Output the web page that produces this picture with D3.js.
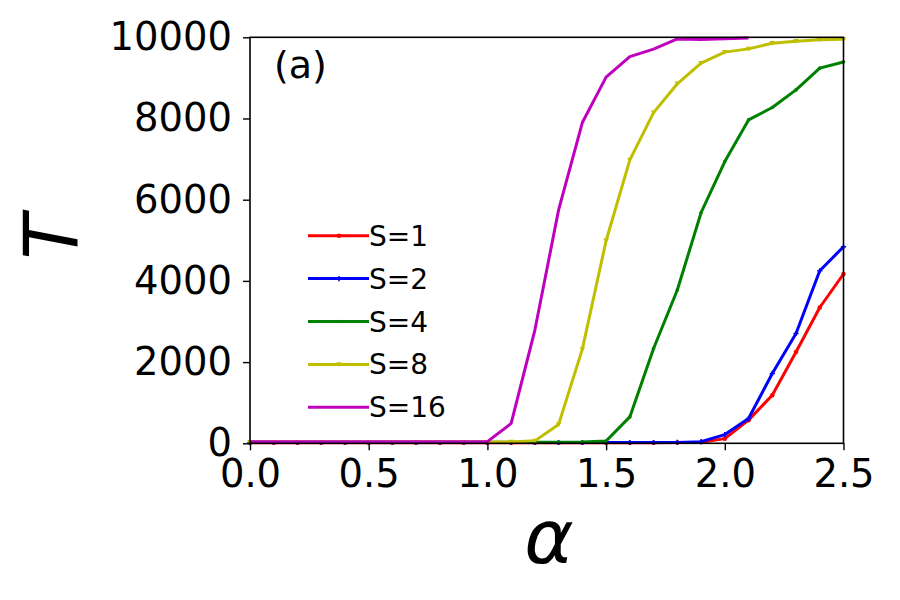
<!DOCTYPE html>
<html>
<head>
<meta charset="utf-8">
<script src="https://cdn.jsdelivr.net/npm/d3@7"></script>
<style>
  html, body { margin: 0; padding: 0; background: #fff; }
  svg text { font-family: "DejaVu Sans", sans-serif; fill: #000; }
</style>
</head>
<body>
<div id="chart"></div>
<script>
// ── Data ──────────────────────────────────────────────────────
const alphas = [0.0, 0.1, 0.2, 0.3, 0.4, 0.5, 0.6, 0.7, 0.8, 0.9, 1.0, 1.1, 1.2,
                1.3, 1.4, 1.5, 1.6, 1.7, 1.8, 1.9, 2.0, 2.1, 2.2, 2.3, 2.4, 2.5];

const s1  = [15, 15, 15, 15, 15, 15, 15, 15, 15, 15, 15, 15, 15,
             15, 15, 15, 15, 15, 18, 25, 115, 570, 1185, 2250, 3345, 4170];
const s2  = [20, 20, 20, 20, 20, 20, 20, 20, 20, 20, 20, 20, 20,
             20, 20, 20, 20, 20, 22, 40, 215, 610, 1720, 2705, 4250, 4840];
const s4  = [25, 25, 25, 25, 25, 25, 25, 25, 25, 25, 25, 25, 25,
             25, 30, 57, 650, 2335, 3775, 5680, 6940, 7965, 8270, 8705, 9240, 9390];
const s8  = [30, 30, 30, 30, 30, 30, 30, 30, 30, 30, 30, 35, 60,
             465, 2320, 4990, 6980, 8145, 8855, 9365, 9635, 9715, 9855, 9905, 9940, 9950];
const s16 = [40, 40, 40, 40, 40, 40, 40, 40, 40, 40, 40, 490, 2790,
             5750, 7900, 9020, 9525, 9710, 9960, 9945, 9965, 9985];

const seriesNames  = ['S=1', 'S=2', 'S=4', 'S=8', 'S=16'];
const seriesValues = [s1, s2, s4, s8, s16];
const seriesColors = ['#ff0000', '#0000ff', '#008000', '#bfbf00', '#bf00bf'];
const seriesMarks  = ['circle', 'plus', 'dot', 'tri', 'none'];

const xTicks = [0.0, 0.5, 1.0, 1.5, 2.0, 2.5];
const yTicks = [0, 2000, 4000, 6000, 8000, 10000];

// ── Layout ────────────────────────────────────────────────────
const width = 900, height = 600;
const plot = { left: 250, right: 843.5, top: 37.3, bottom: 443.3 };

const svg = d3.select('#chart').append('svg')
  .attr('width', width)
  .attr('height', height);

const x = d3.scaleLinear().domain([0, 2.5]).range([plot.left, plot.right]);
const y = d3.scaleLinear().domain([0, 10000]).range([plot.bottom, plot.top]);

// ── Lines ─────────────────────────────────────────────────────
const line = d3.line()
  .x(d => x(d.a))
  .y(d => y(d.v));

function drawMarker(g, type, cx, cy, color) {
  if (type === 'circle') {
    g.append('circle').attr('cx', cx).attr('cy', cy).attr('r', 2.3).attr('fill', color);
  } else if (type === 'dot') {
    g.append('circle').attr('cx', cx).attr('cy', cy).attr('r', 1.8).attr('fill', color);
  } else if (type === 'plus') {
    g.append('path')
      .attr('d', `M${cx - 2.6},${cy}H${cx + 2.6}M${cx},${cy - 2.6}V${cy + 2.6}`)
      .attr('stroke', color).attr('stroke-width', 1.6);
  } else if (type === 'tri') {
    g.append('path')
      .attr('d', `M${cx - 2.8},${cy - 2.2}L${cx + 2.8},${cy - 2.2}L${cx},${cy + 2.6}Z`)
      .attr('fill', color);
  }
}

seriesValues.forEach((vals, i) => {
  const pts = vals.map((v, k) => ({ a: alphas[k], v }));
  const g = svg.append('g');
  g.append('path')
    .datum(pts)
    .attr('fill', 'none')
    .attr('stroke', seriesColors[i])
    .attr('stroke-width', 3)
    .attr('stroke-linejoin', 'round')
    .attr('d', line);
  pts.forEach(p => drawMarker(g, seriesMarks[i], x(p.a), y(p.v), seriesColors[i]));
});

// ── Axes ──────────────────────────────────────────────────────
const xAxis = svg.append('g')
  .attr('transform', `translate(0,${plot.bottom})`)
  .call(d3.axisBottom(x).tickValues(xTicks).tickFormat(d3.format('.1f'))
    .tickSize(7).tickPadding(8));

const yAxis = svg.append('g')
  .attr('transform', `translate(${plot.left},0)`)
  .call(d3.axisLeft(y).tickValues(yTicks).tickFormat(d3.format('d'))
    .tickSize(7).tickPadding(11));

[xAxis, yAxis].forEach(ax => {
  ax.select('.domain').remove();
  ax.selectAll('.tick line').attr('stroke', '#000').attr('stroke-width', 1.4);
  ax.selectAll('.tick text')
    .attr('font-family', '"DejaVu Sans", sans-serif')
    .attr('font-size', 38.5)
    .attr('fill', '#000');
});
xAxis.selectAll('.tick text').attr('dy', '0.74em');

// frame
svg.append('rect')
  .attr('x', plot.left).attr('y', plot.top)
  .attr('width', plot.right - plot.left)
  .attr('height', plot.bottom - plot.top)
  .attr('fill', 'none')
  .attr('stroke', '#000')
  .attr('stroke-width', 1.6);

// ── Axis labels ───────────────────────────────────────────────
svg.append('text')
  .attr('x', 549).attr('y', 563)
  .attr('text-anchor', 'middle')
  .attr('font-size', 75)
  .attr('font-style', 'italic')
  .text('α');

svg.append('text')
  .attr('transform', 'translate(77,237) rotate(-90)')
  .attr('text-anchor', 'middle')
  .attr('font-size', 74)
  .attr('font-style', 'italic')
  .text('T');

svg.append('text')
  .attr('x', 274).attr('y', 78)
  .attr('font-size', 38)
  .text('(a)');

// ── Legend ────────────────────────────────────────────────────
const legend = svg.append('g');
seriesNames.forEach((name, i) => {
  const ly = 235.7 + i * 42.9;
  legend.append('line')
    .attr('x1', 308).attr('x2', 369)
    .attr('y1', ly).attr('y2', ly)
    .attr('stroke', seriesColors[i])
    .attr('stroke-width', 3);
  drawMarker(legend, seriesMarks[i], 339, ly, seriesColors[i]);
  legend.append('text')
    .attr('x', 369).attr('y', ly)
    .attr('dy', '0.36em')
    .attr('font-size', 28)
    .text(name);
});
</script>
</body>
</html>
